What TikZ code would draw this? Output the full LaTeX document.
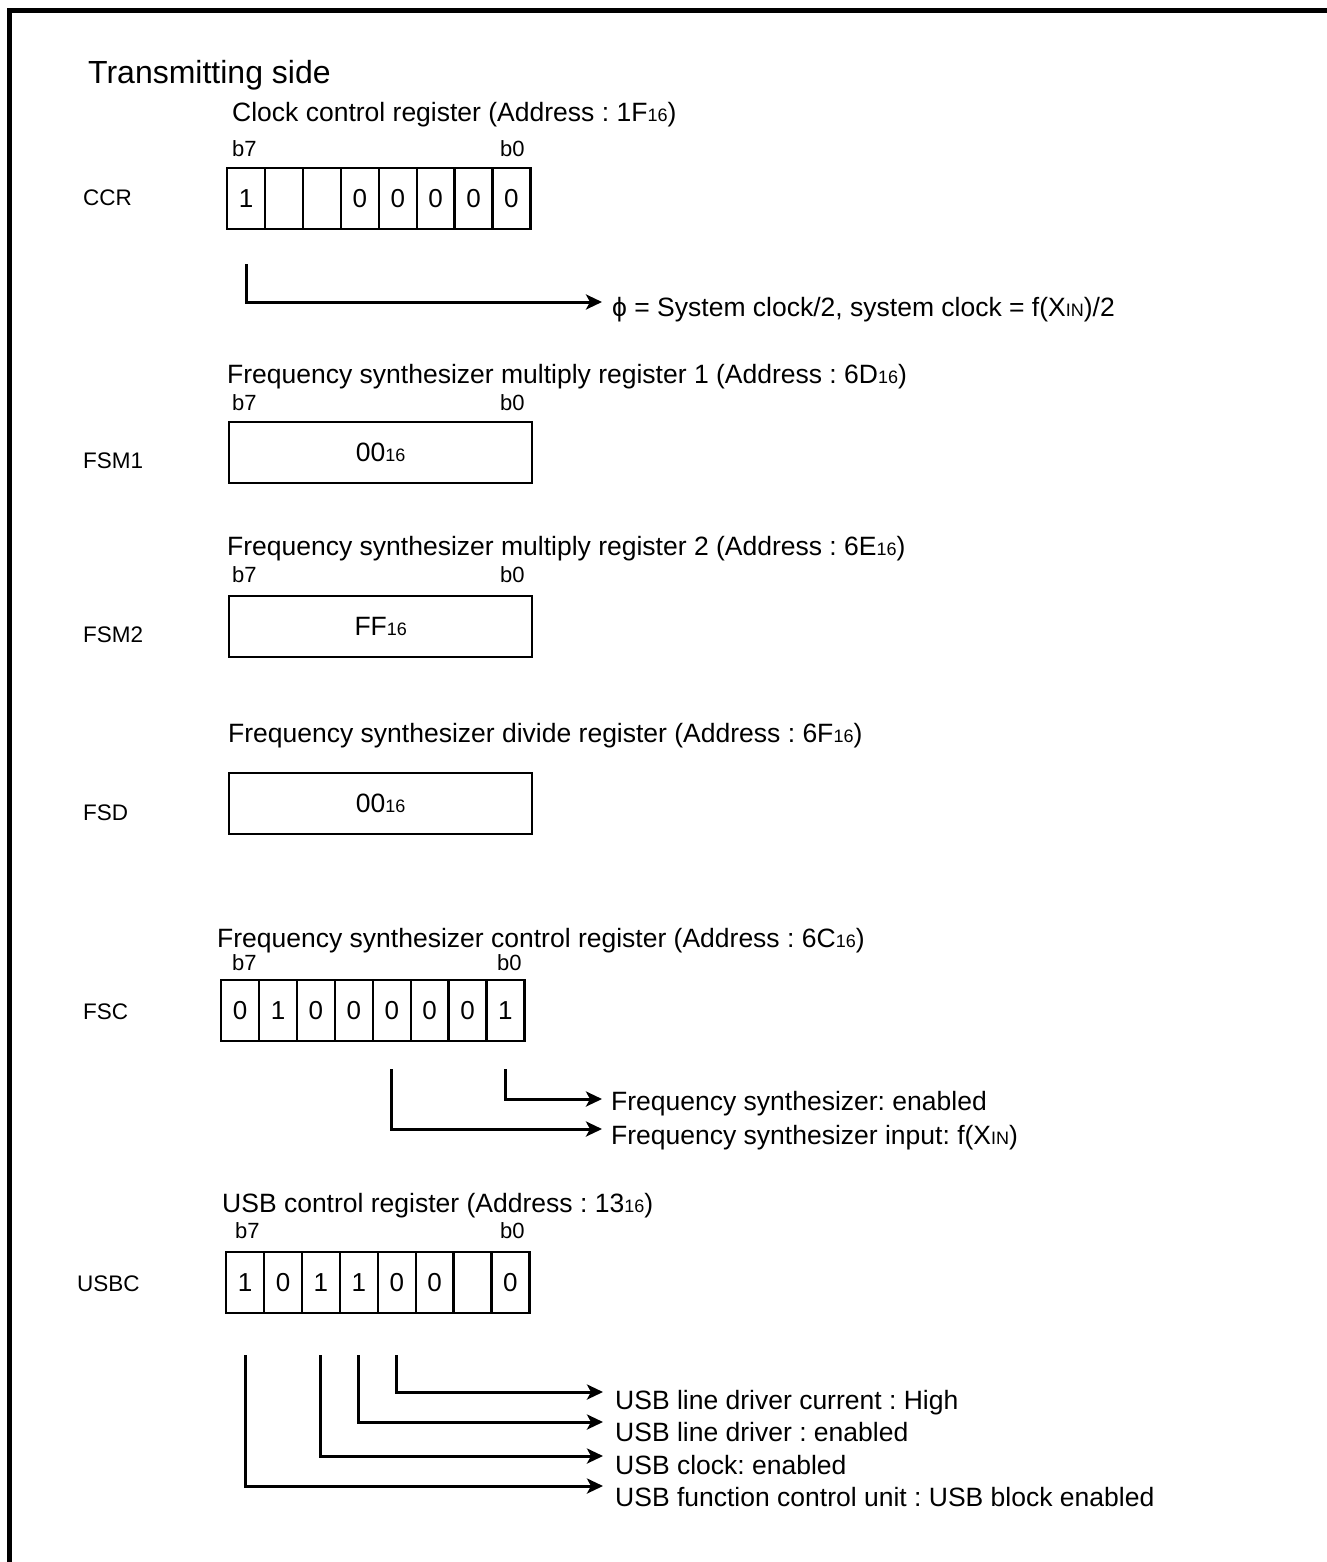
\documentclass[tikz,border=0pt]{standalone}
\usepackage{fontspec}
\setmainfont{Liberation Sans}
\usetikzlibrary{arrows.meta}
\newcommand{\hsub}[1]{{\fontsize{18}{20}\selectfont #1}}
\frenchspacing
\begin{document}
\begin{tikzpicture}[x=1pt,y=-1pt,
  txt/.style={anchor=base west,inner sep=0pt,font=\fontsize{26.5}{30}\selectfont\frenchspacing},
  lbl/.style={anchor=base west,inner sep=0pt,font=\fontsize{22.5}{26}\selectfont},
  bitlbl/.style={anchor=base west,inner sep=0pt,font=\fontsize{22}{26}\selectfont},
  cell/.style={draw,line width=2.4pt,minimum width=37.9pt,minimum height=61pt,inner sep=0pt,anchor=north west,font=\fontsize{26}{28}\selectfont},
  regbox/.style={draw,line width=2.4pt,minimum width=303pt,minimum height=61pt,inner sep=0pt,anchor=north west,font=\fontsize{26.5}{30}\selectfont},
  arr/.style={line width=3pt,-{Stealth[length=16pt,width=15pt,inset=4pt]}}]
\useasboundingbox (0,0) rectangle (1326,1562);
\draw[line width=5pt] (9.5,1575) -- (9.5,10.5) -- (1340,10.5);

\node[txt,font=\fontsize{32}{36}\selectfont] (title) at (88,84) {Transmitting side};

% CCR
\node[txt] (ccrT) at (232,122) {Clock control register (Address : 1F\hsub{16})};
\node[bitlbl] (ccrb7) at (232,157) {b7};
\node[bitlbl] (ccrb0) at (500,157) {b0};
\node[lbl] (ccrL) at (83,206) {CCR};
\foreach \v [count=\i from 0] in {1,{},{},0,0,0,0,0}
  \node[cell] (ccr\i) at (226+37.9*\i,167) {\v};
\node[txt] (ccrA) at (612,316) {ϕ = System clock/2, system clock = f(X\hsub{IN})/2};
\draw[arr] ([yshift=-34pt]ccr0.south) |- ([xshift=-10pt,yshift=14pt]ccrA.base west);

% FSM1
\node[txt] (fsm1T) at (227,383) {Frequency synthesizer multiply register 1 (Address : 6D\hsub{16})};
\node[bitlbl] (fsm1b7) at (232,410) {b7};
\node[bitlbl] (fsm1b0) at (500,410) {b0};
\node[regbox] (fsm1) at (228,421) {00\hsub{16}};
\node[lbl] (fsm1L) at (83,468) {FSM1};

% FSM2
\node[txt] (fsm2T) at (227,555) {Frequency synthesizer multiply register 2 (Address : 6E\hsub{16})};
\node[bitlbl] (fsm2b7) at (232,582) {b7};
\node[bitlbl] (fsm2b0) at (500,582) {b0};
\node[regbox] (fsm2) at (228,595) {FF\hsub{16}};
\node[lbl] (fsm2L) at (83,642) {FSM2};

% FSD
\node[txt] (fsdT) at (228,742) {Frequency synthesizer divide register (Address : 6F\hsub{16})};
\node[regbox] (fsd) at (228,772) {00\hsub{16}};
\node[lbl] (fsdL) at (83,820) {FSD};

% FSC
\node[txt] (fscT) at (217,947) {Frequency synthesizer control register (Address : 6C\hsub{16})};
\node[bitlbl] (fscb7) at (232,970) {b7};
\node[bitlbl] (fscb0) at (497,970) {b0};
\node[lbl] (fscL) at (83,1019) {FSC};
\foreach \v [count=\i from 0] in {0,1,0,0,0,0,0,1}
  \node[cell] (fsc\i) at (220+37.9*\i,979) {\v};
\node[txt] (fscA1) at (611,1110) {Frequency synthesizer: enabled};
\node[txt] (fscA2) at (611,1144) {Frequency synthesizer input: f(X\hsub{IN})};
\draw[arr] ([yshift=-27pt]fsc7.south) |- ([xshift=-9pt,yshift=11pt]fscA1.base west);
\draw[arr] ([yshift=-27pt]fsc4.south) |- ([xshift=-9pt,yshift=15pt]fscA2.base west);

% USBC
\node[txt] (usbT) at (222,1212) {USB control register (Address : 13\hsub{16})};
\node[bitlbl] (usbb7) at (235,1238) {b7};
\node[bitlbl] (usbb0) at (500,1238) {b0};
\node[lbl] (usbL) at (77,1291) {USBC};
\foreach \v [count=\i from 0] in {1,0,1,1,0,0,{},0}
  \node[cell] (usb\i) at (225+37.9*\i,1251) {\v};
\node[txt] (usbA1) at (615,1409) {USB line driver current : High};
\node[txt] (usbA2) at (615,1441) {USB line driver : enabled};
\node[txt] (usbA3) at (615,1474) {USB clock: enabled};
\node[txt] (usbA4) at (615,1506) {USB function control unit : USB block enabled};
\draw[arr] ([yshift=-41pt]usb4.south) |- ([xshift=-12pt,yshift=17pt]usbA1.base west);
\draw[arr] ([yshift=-41pt]usb3.south) |- ([xshift=-12pt,yshift=19pt]usbA2.base west);
\draw[arr] ([yshift=-41pt]usb2.south) |- ([xshift=-12pt,yshift=18pt]usbA3.base west);
\draw[arr] ([yshift=-41pt]usb0.south) |- ([xshift=-12pt,yshift=20pt]usbA4.base west);
\end{tikzpicture}
\end{document}
